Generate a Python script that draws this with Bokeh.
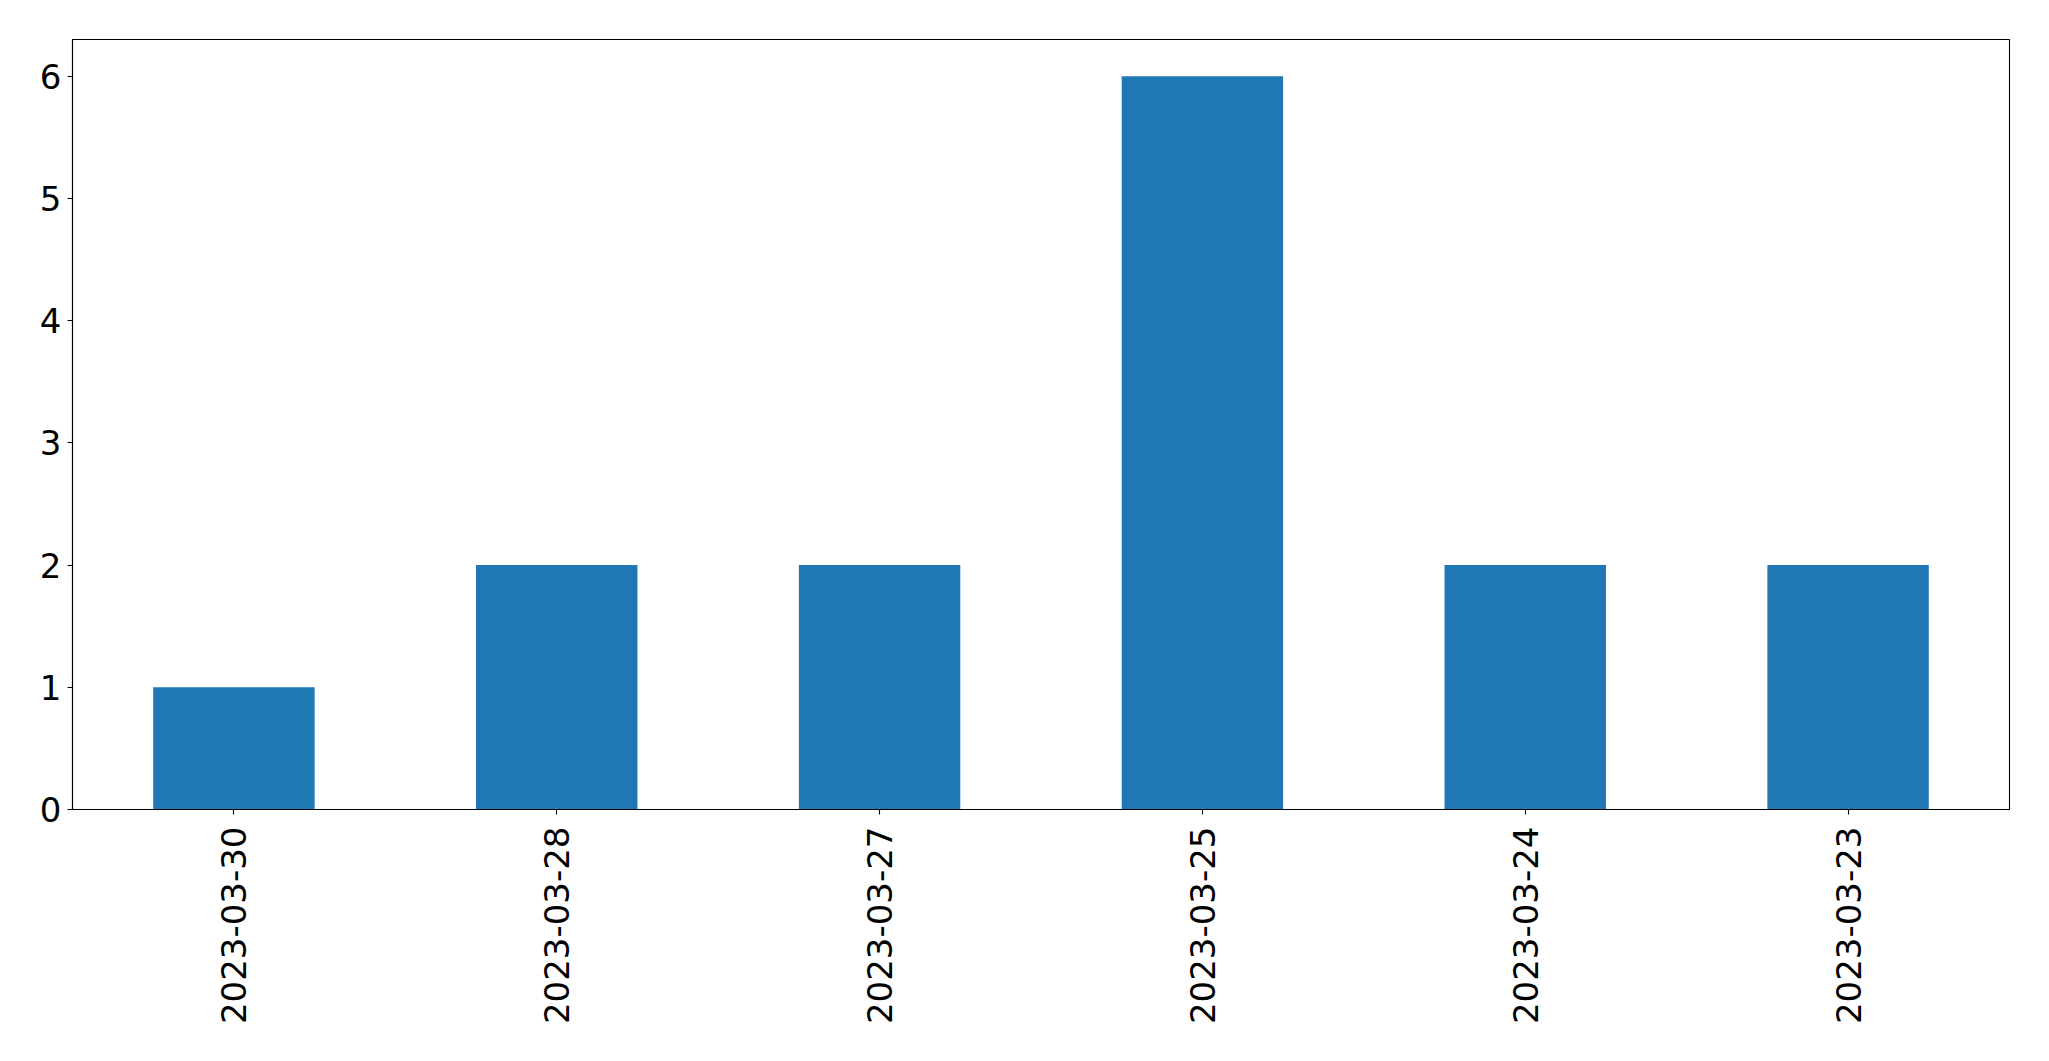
import math
from bokeh.plotting import figure
from bokeh.models import FactorRange, Range1d, FixedTicker, ColumnDataSource
from bokeh.embed import file_html
from bokeh.resources import INLINE

dates = ["2023-03-30", "2023-03-28", "2023-03-27", "2023-03-25", "2023-03-24", "2023-03-23"]
counts = [1, 2, 2, 6, 2, 2]
y_ticks = [0, 1, 2, 3, 4, 5, 6]

src = ColumnDataSource(data=dict(x=dates, top=counts))

p = figure(
    width=2033, height=1045,
    x_range=FactorRange(*dates, range_padding=0),
    y_range=Range1d(0, 6.3),
    output_backend="svg", toolbar_location=None,
    min_border_left=72, min_border_right=24, min_border_top=39, min_border_bottom=236,
)
p.vbar(x="x", top="top", width=0.5, bottom=0, source=src,
       fill_color="#1f77b4", line_color=None)

p.xgrid.visible = False
p.ygrid.visible = False
p.outline_line_color = "black"
p.outline_line_width = 1.1
p.outline_line_alpha = 1.0

for ax in (p.xaxis[0], p.yaxis[0]):
    ax.axis_line_color = "black"
    ax.axis_line_width = 1.1
    ax.major_tick_line_color = "black"
    ax.major_tick_line_width = 1.1
    ax.major_tick_out = 5
    ax.major_tick_in = 0
    ax.minor_tick_line_color = None
    ax.major_label_text_font = "DejaVu Sans"
    ax.major_label_text_font_size = "34px"
    ax.major_label_text_color = "black"

p.yaxis[0].ticker = FixedTicker(ticks=y_ticks)
p.yaxis[0].major_label_standoff = 6
p.xaxis[0].major_label_orientation = math.pi / 2
p.xaxis[0].major_label_standoff = 12

open("out.html", "w").write(file_html(p, INLINE))
